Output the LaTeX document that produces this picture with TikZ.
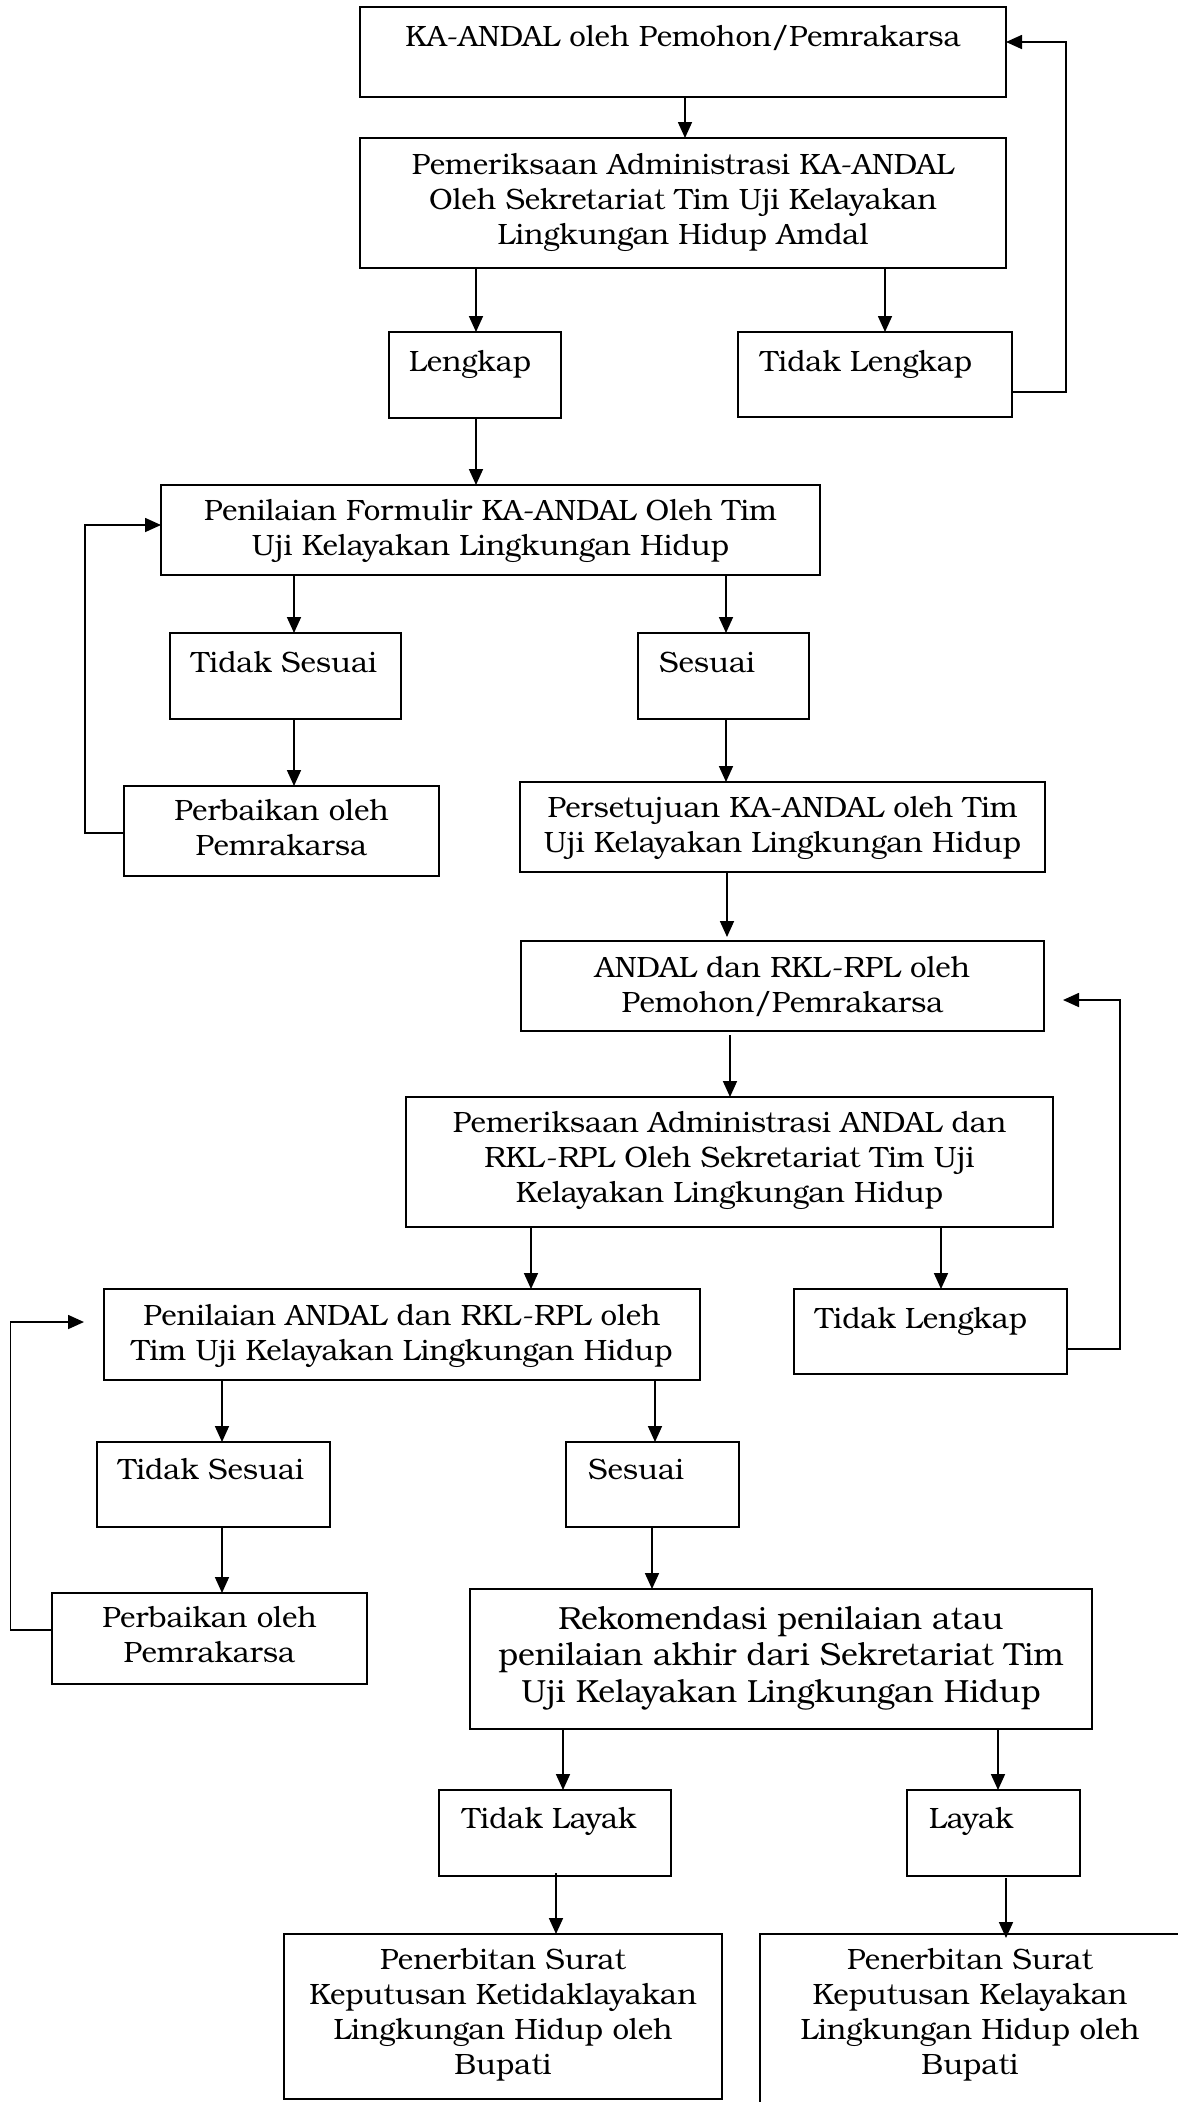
\documentclass[tikz,border=0pt]{standalone}
\usepackage{fontspec}
\setmainfont{TeX Gyre Bonum}
\usetikzlibrary{arrows.meta}
\newcommand\fsA{\fontsize{29.4}{35}\selectfont}
\newcommand\fsB{\fontsize{32}{36.5}\selectfont}
\begin{document}
\begin{tikzpicture}[x=1pt,y=-1pt,
  box/.style={draw, line width=1.7pt, inner sep=0pt, outer sep=0pt, anchor=north west},
  txt/.style={inner sep=0pt, font=\fsA, align=center, anchor=north, execute at begin node={\rule{0pt}{24pt}}},
  txtl/.style={txt, anchor=north west, align=left},
  arr/.style={line width=1.7pt, -{Triangle[length=16pt,width=14pt]}}]
\useasboundingbox (0,0) rectangle (1178,2102);
\fill[white] (0,0) rectangle (1178,2102);
\clip (0,0) rectangle (1178,2102);

% boxes
\node[box, minimum width=646, minimum height=90] (b1) at (360,7) {};
\node[txt] (b1t) at (683,22) {KA-ANDAL oleh Pemohon/Pemrakarsa};
\node[box, minimum width=646, minimum height=130] (b2) at (360,138) {};
\node[txt] (b2t) at (683,153) {Pemeriksaan Administrasi KA-ANDAL\\Oleh Sekretariat Tim Uji Kelayakan\\Lingkungan Hidup Amdal};
\node[box, minimum width=172, minimum height=86] (len1) at (389,332) {};
\node[txtl] (len1t) at (409,347) {Lengkap};
\node[box, minimum width=274, minimum height=85] (tl1) at (738,332) {};
\node[txtl] (tl1t) at (760,347) {Tidak Lengkap};
\node[box, minimum width=659, minimum height=90] (pf) at (161,485) {};
\node[txt] (pft) at (490.5,499) {Penilaian Formulir KA-ANDAL Oleh Tim\\Uji Kelayakan Lingkungan Hidup};
\node[box, minimum width=231, minimum height=86] (ts1) at (170,633) {};
\node[txtl] (ts1t) at (191,648) {Tidak Sesuai};
\node[box, minimum width=171, minimum height=86] (s1) at (638,633) {};
\node[txtl] (s1t) at (659,648) {Sesuai};
\node[box, minimum width=315, minimum height=90] (pb1) at (124,786) {};
\node[txt] (pb1t) at (281.5,799) {Perbaikan oleh\\Pemrakarsa};
\node[box, minimum width=525, minimum height=90] (ps) at (520,782) {};
\node[txt] (pst) at (782.5,796) {Persetujuan KA-ANDAL oleh Tim\\Uji Kelayakan Lingkungan Hidup};
\node[box, minimum width=523, minimum height=90] (an) at (521,941) {};
\node[txt] (ant) at (782.5,956) {ANDAL dan RKL-RPL oleh\\Pemohon/Pemrakarsa};
\node[box, minimum width=647, minimum height=130] (pa) at (406,1097) {};
\node[txt] (pat) at (729.5,1111) {Pemeriksaan Administrasi ANDAL dan\\RKL-RPL Oleh Sekretariat Tim Uji\\Kelayakan Lingkungan Hidup};
\node[box, minimum width=596, minimum height=91] (pn) at (104,1289) {};
\node[txt] (pnt) at (402,1304) {Penilaian ANDAL dan RKL-RPL oleh\\Tim Uji Kelayakan Lingkungan Hidup};
\node[box, minimum width=273, minimum height=85] (tl2) at (794,1289) {};
\node[txtl] (tl2t) at (815,1304) {Tidak Lengkap};
\node[box, minimum width=233, minimum height=85] (ts2) at (97,1442) {};
\node[txtl] (ts2t) at (118,1455) {Tidak Sesuai};
\node[box, minimum width=173, minimum height=85] (s2) at (566,1442) {};
\node[txtl] (s2t) at (588,1455) {Sesuai};
\node[box, minimum width=315, minimum height=91] (pb2) at (52,1593) {};
\node[txt] (pb2t) at (209.5,1606) {Perbaikan oleh\\Pemrakarsa};
\node[box, minimum width=622, minimum height=140] (rk) at (470,1589) {};
\node[txt, font=\fsB] (rkt) at (781,1606) {Rekomendasi penilaian atau\\penilaian akhir dari Sekretariat Tim\\Uji Kelayakan Lingkungan Hidup};
\node[box, minimum width=232, minimum height=86] (tly) at (439,1790) {};
\node[txtl] (tlyt) at (462,1804) {Tidak Layak};
\node[box, minimum width=173, minimum height=86] (ly) at (907,1790) {};
\node[txtl] (lyt) at (929,1804) {Layak};
\node[box, minimum width=438, minimum height=165] (pn1) at (284,1934) {};
\node[txt] (pn1t) at (503,1948) {Penerbitan Surat\\Keputusan Ketidaklayakan\\Lingkungan Hidup oleh\\Bupati};
\node[box, minimum width=420, minimum height=190] (pn2) at (760,1934) {};
\node[txt] (pn2t) at (970,1948) {Penerbitan Surat\\Keputusan Kelayakan\\Lingkungan Hidup oleh\\Bupati};

% vertical arrows
\draw[arr] (b1.south -| 685,0) -- (b2.north -| 685,0);
\draw[arr] (b2.south -| 476,0) -- (len1.north -| 476,0);
\draw[arr] (b2.south -| 885,0) -- (tl1.north -| 885,0);
\draw[arr] (len1.south -| 476,0) -- (pf.north -| 476,0);
\draw[arr] (pf.south -| 294,0) -- (ts1.north -| 294,0);
\draw[arr] (pf.south -| 726,0) -- (s1.north -| 726,0);
\draw[arr] (ts1.south -| 294,0) -- (pb1.north -| 294,0);
\draw[arr] (s1.south -| 726,0) -- (ps.north -| 726,0);
\draw[arr] (ps.south -| 727,0) -- ([yshift=4pt]an.north -| 727,0);
\draw[arr] ([yshift=-4pt]an.south -| 730,0) -- (pa.north -| 730,0);
\draw[arr] (pa.south -| 531,0) -- (pn.north -| 531,0);
\draw[arr] (pa.south -| 941,0) -- (tl2.north -| 941,0);
\draw[arr] (pn.south -| 222,0) -- (ts2.north -| 222,0);
\draw[arr] (pn.south -| 655,0) -- (s2.north -| 655,0);
\draw[arr] (ts2.south -| 222,0) -- (pb2.north -| 222,0);
\draw[arr] (s2.south -| 652,0) -- (rk.north -| 652,0);
\draw[arr] (rk.south -| 563,0) -- (tly.north -| 563,0);
\draw[arr] (rk.south -| 998,0) -- (ly.north -| 998,0);
\draw[arr] ([yshift=3pt]tly.south -| 556,0) -- (pn1.north -| 556,0);
\draw[arr] ([yshift=-2pt]ly.south -| 1006,0) -- ([yshift=-4pt]pn2.north -| 1006,0);

% feedback loops
\draw[arr] (tl1.east |- 0,392) -- (1066,392) -- (1066,42) -- (b1.east |- 0,42);
\draw[arr] (pb1.west |- 0,833) -- (85,833) -- (85,525) -- (pf.west |- 0,525);
\draw[arr] (tl2.east |- 0,1349) -- (1120,1349) -- (1120,1000) -- ([xshift=19pt]an.east |- 0,1000);
\draw[arr] (pb2.west |- 0,1630) -- (10.5,1630) -- (10.5,1322) -- ([xshift=-20pt]pn.west |- 0,1322);
\end{tikzpicture}
\end{document}
